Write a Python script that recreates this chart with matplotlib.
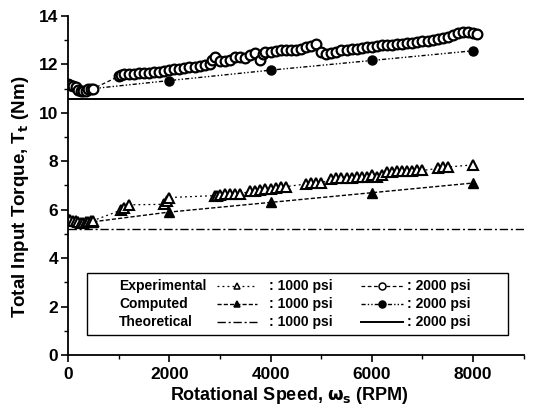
import matplotlib
matplotlib.use("Agg")
import matplotlib.pyplot as plt
from matplotlib.lines import Line2D
from matplotlib.patches import Rectangle

plt.rcParams['font.family'] = ['Liberation Sans', 'DejaVu Sans']
plt.rcParams['font.weight'] = 'bold'
plt.rcParams['mathtext.default'] = 'bf'

# ---- data ----
exp1000_x = [0, 50, 100, 150, 200, 250, 300, 350, 400, 450, 500,
             1050, 1100, 1200, 1900, 1950, 2000, 2900, 2950, 3000, 3100, 3200, 3300,
             3400, 3600, 3700, 3800, 3900, 4000, 4100, 4200, 4300, 4700, 4800, 4900,
             5000, 5200, 5300, 5400, 5500, 5600, 5700, 5800, 5900, 6000, 6100, 6200,
             6300, 6400, 6500, 6600, 6700, 6800, 6900, 7000, 7300, 7400, 7500, 8000]
exp1000_y = [5.6, 5.58, 5.55, 5.52, 5.5, 5.45, 5.45, 5.47, 5.5, 5.52, 5.55,
             5.98, 6.08, 6.2, 6.22, 6.35, 6.5, 6.58, 6.55, 6.6, 6.65, 6.66, 6.66,
             6.66, 6.75, 6.78, 6.8, 6.85, 6.86, 6.9, 6.92, 6.95, 7.06, 7.08, 7.08,
             7.1, 7.25, 7.3, 7.3, 7.32, 7.32, 7.33, 7.35, 7.35, 7.45, 7.35, 7.45,
             7.55, 7.56, 7.58, 7.6, 7.6, 7.6, 7.62, 7.62, 7.7, 7.75, 7.76, 7.85]

exp2000_x = [0, 50, 100, 150, 200, 250, 300, 350, 400, 450, 500,
             1000, 1050, 1100, 1200, 1300, 1400, 1500, 1600, 1700, 1800, 1900, 2000,
             2100, 2200, 2300, 2400, 2500, 2600, 2700, 2800, 2850, 2900, 3000, 3100,
             3200, 3300, 3400, 3500, 3600, 3700, 3800, 3850, 3900, 4000, 4100, 4200,
             4300, 4400, 4500, 4600, 4700, 4800, 4900, 5000, 5100, 5200, 5300, 5400,
             5500, 5600, 5700, 5800, 5900, 6000, 6100, 6200, 6300, 6400, 6500, 6600,
             6700, 6800, 6900, 7000, 7100, 7200, 7300, 7400, 7500, 7600, 7700, 7800,
             7900, 8000, 8080]
exp2000_y = [11.2, 11.15, 11.1, 11.05, 10.95, 10.9, 10.88, 10.92, 10.98, 11.0, 11.0,
             11.5, 11.55, 11.6, 11.62, 11.62, 11.63, 11.65, 11.66, 11.68, 11.7, 11.72, 11.75,
             11.8, 11.82, 11.85, 11.88, 11.9, 11.95, 11.98, 12.02, 12.2, 12.3, 12.15, 12.15,
             12.2, 12.3, 12.32, 12.28, 12.4, 12.45, 12.2, 12.42, 12.5, 12.5, 12.55, 12.58,
             12.6, 12.6, 12.6, 12.65, 12.7, 12.75, 12.82, 12.5, 12.42, 12.48, 12.52, 12.58,
             12.6, 12.62, 12.65, 12.68, 12.7, 12.72, 12.75, 12.78, 12.8, 12.8, 12.82, 12.85,
             12.88, 12.9, 12.92, 12.95, 12.98, 13.0, 13.05, 13.08, 13.12, 13.2, 13.3, 13.32,
             13.32, 13.3, 13.25]

comp_x = [500, 2000, 4000, 6000, 8000]
comp1000_y = [5.5, 5.9, 6.3, 6.7, 7.1]
comp2000_y = [11.0, 11.33, 11.76, 12.16, 12.56]

theo1000 = 5.2
theo2000 = 10.55
theo_x = [0, 9000]

xticks = [0, 2000, 4000, 6000, 8000]
yticks = [0, 2, 4, 6, 8, 10, 12, 14]

# ---- figure ----
fig = plt.figure(figsize=(5.35, 4.08), dpi=100)
ax = fig.add_axes([0.127, 0.130, 0.852, 0.831])

st_exp1000 = dict(color='k', ls=(0, (1.5, 2.5)), lw=0.9, marker='^', mfc='white', mec='k', ms=7, mew=1.5)
st_exp2000 = dict(color='k', ls=(0, (3, 2)), lw=0.9, marker='o', mfc='white', mec='k', ms=7, mew=1.6)
st_comp1000 = dict(color='k', ls=(0, (3, 1.5)), lw=1.0, marker='^', mfc='k', mec='k', ms=6.5)
st_comp2000 = dict(color='k', ls=(0, (3, 1.5, 1, 1.5, 1, 1.5)), lw=1.0, marker='o', mfc='k', mec='k', ms=6.5)
st_theo1000 = dict(color='k', ls=(0, (6, 2, 1.5, 2)), lw=1.0)
st_theo2000 = dict(color='k', ls='-', lw=1.4)

ax.plot(theo_x, [theo1000, theo1000], **st_theo1000)
ax.plot(theo_x, [theo2000, theo2000], **st_theo2000)
ax.plot(comp_x, comp1000_y, **st_comp1000)
ax.plot(comp_x, comp2000_y, **st_comp2000)
ax.plot(exp1000_x, exp1000_y, **st_exp1000)
ax.plot(exp2000_x, exp2000_y, **st_exp2000)

ax.set_xlim(0, 9000)
ax.set_ylim(0, 14)
ax.set_xticks(xticks)
ax.set_yticks(yticks)
ax.set_xticks(range(1000, 9001, 2000), minor=True)
ax.set_yticks(range(1, 14, 2), minor=True)
ax.tick_params(axis='both', which='major', direction='out', length=5, width=1.2, labelsize=12.5)
ax.tick_params(axis='both', which='minor', direction='out', length=3, width=1.0)
ax.tick_params(axis='x', pad=4)
ax.tick_params(axis='y', pad=2)
for lab in ax.get_xticklabels() + ax.get_yticklabels():
    lab.set_fontweight('bold')
ax.spines['top'].set_visible(False)
ax.spines['right'].set_visible(False)
ax.spines['left'].set_linewidth(1.3)
ax.spines['bottom'].set_linewidth(1.3)

ax.set_xlabel(r'Rotational Speed, $\omega_s$ (RPM)', fontsize=13, fontweight='bold')
ax.set_ylabel(r'Total Input Torque, T$_t$ (Nm)', fontsize=13.5, fontweight='bold')
ax.xaxis.set_label_coords(0.485, -0.088)
ax.yaxis.set_label_coords(-0.08, 0.466)

# ---- custom legend table ----
ax.add_patch(Rectangle((0.042, 0.059), 0.923, 0.183, transform=ax.transAxes,
                       facecolor='white', edgecolor='k', lw=1.0, zorder=5))
rows = [("Experimental", st_exp1000, st_exp2000, 0.204),
        ("Computed", st_comp1000, st_comp2000, 0.151),
        ("Theoretical", st_theo1000, st_theo2000, 0.098)]
for name, s1, s2, yy in rows:
    ax.text(0.112, yy, name, transform=ax.transAxes, fontsize=10, fontweight='bold',
            va='center', ha='left', zorder=6)
    for (x0, x1), s in (((0.326, 0.414), s1), ((0.644, 0.735), s2)):
        kw = dict(s)
        if 'marker' in kw:
            kw['ms'] = 5
            kw['mew'] = 1.1
            kw['markevery'] = [1]
        ax.add_line(Line2D([x0, (x0 + x1) / 2, x1], [yy, yy, yy], transform=ax.transAxes,
                           zorder=6, **kw))
    ax.text(0.441, yy, ': 1000 psi', transform=ax.transAxes, fontsize=10, fontweight='bold',
            va='center', ha='left', zorder=6)
    ax.text(0.743, yy, ': 2000 psi', transform=ax.transAxes, fontsize=10, fontweight='bold',
            va='center', ha='left', zorder=6)

fig.savefig('out.png', dpi=100)
